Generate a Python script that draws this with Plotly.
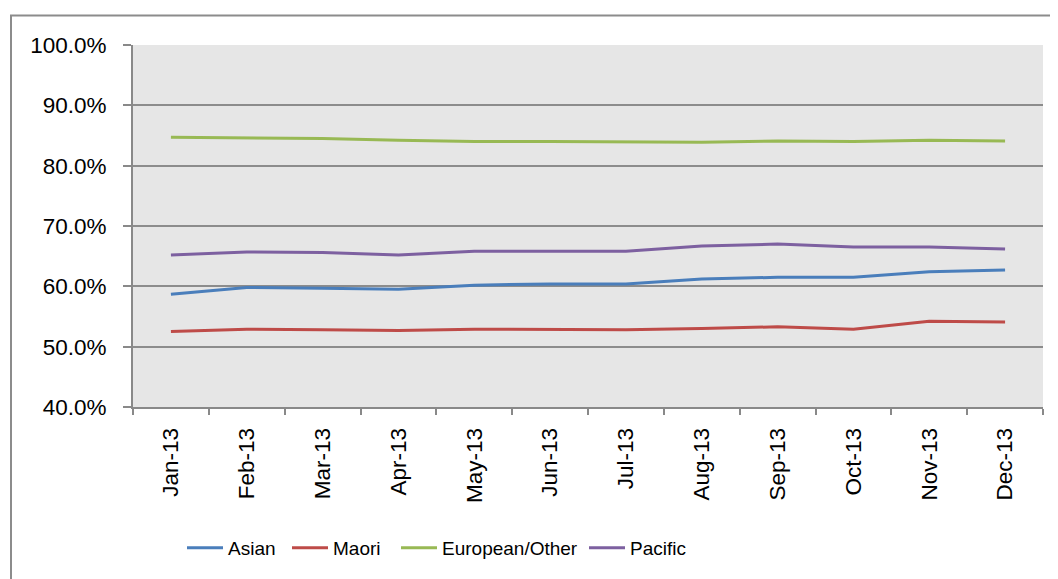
import plotly.graph_objects as go

months = ["Jan-13", "Feb-13", "Mar-13", "Apr-13", "May-13", "Jun-13",
          "Jul-13", "Aug-13", "Sep-13", "Oct-13", "Nov-13", "Dec-13"]

asian = [0.587, 0.598, 0.597, 0.595, 0.602, 0.604, 0.604, 0.612, 0.615, 0.615, 0.624, 0.627]
maori = [0.525, 0.529, 0.528, 0.527, 0.529, 0.529, 0.528, 0.530, 0.533, 0.529, 0.542, 0.541]
european = [0.847, 0.846, 0.845, 0.842, 0.840, 0.840, 0.839, 0.839, 0.841, 0.840, 0.842, 0.841]
pacific = [0.652, 0.657, 0.656, 0.652, 0.658, 0.658, 0.658, 0.667, 0.670, 0.665, 0.665, 0.662]

series_names = ["Asian", "Maori", "European/Other", "Pacific"]
series_values = [asian, maori, european, pacific]
series_colors = ["#4A7EBB", "#BE4B48", "#98B954", "#7D60A0"]

# page has an 8px body offset; target page positions of plot area
OFF = 8
PL, PR, PT, PB = 133, 1043, 45, 407   # plot area in page pixels
W, H = 1058 - OFF, 579 - OFF
L, T = PL - OFF, PT - OFF
R = 1058 - PR
B = 579 - PB
pw, ph = PR - PL, PB - PT

def px_x(x):
    return (x - PL) / pw

def px_y(y):
    return (PB - y) / ph

legend_ids = ["legend", "legend2", "legend3", "legend4"]
legend_x_px = [182, 287, 396, 584]   # left edge of each legend entry (page px)

fig = go.Figure()
for name, vals, color, lid in zip(series_names, series_values, series_colors, legend_ids):
    fig.add_trace(go.Scatter(x=months, y=vals, name=name, mode="lines",
                             line=dict(color=color, width=3), legend=lid))

tickfont = dict(family="Liberation Sans, Arial, sans-serif", size=22.5, color="#000000")
legfont = dict(family="Liberation Sans, Arial, sans-serif", size=19, color="#000000")

legends = {}
for lid, lx in zip(legend_ids, legend_x_px):
    legends[lid] = dict(orientation="h", x=px_x(lx), xanchor="left", y=px_y(548),
                        yanchor="middle", font=legfont, itemwidth=36,
                        bgcolor="rgba(0,0,0,0)", borderwidth=0)

fig.update_layout(
    width=W, height=H,
    margin=dict(l=L, r=R, t=T, b=B, autoexpand=False),
    paper_bgcolor="white",
    plot_bgcolor="#E6E6E6",
    showlegend=True,
    xaxis=dict(
        type="category", tickangle=-90, tickfont=tickfont,
        showgrid=False, showline=True, linecolor="#898989", linewidth=2,
        ticks="outside", ticklen=6, tickcolor="#898989", tickwidth=2,
        tickson="boundaries", ticklabelstandoff=10, mirror=False,
        range=[-0.5, 11.5],
    ),
    yaxis=dict(
        range=[0.4, 1.0], dtick=0.1, tickformat=".1%", tickfont=tickfont,
        showgrid=True, gridcolor="#8C8C8C", gridwidth=2,
        showline=True, linecolor="#898989", linewidth=2,
        ticks="outside", ticklen=8, tickcolor="#898989", tickwidth=2,
        ticklabelstandoff=12, zeroline=False,
    ),
    **legends,
)

# outer chart frame (cut off at right/bottom of the picture)
fig.add_shape(type="rect", xref="paper", yref="paper",
              x0=px_x(11), x1=px_x(1075), y0=px_y(600), y1=px_y(15.5),
              line=dict(color="#8C8C8C", width=2), fillcolor="rgba(0,0,0,0)", layer="below")

fig.write_html("out.html")
